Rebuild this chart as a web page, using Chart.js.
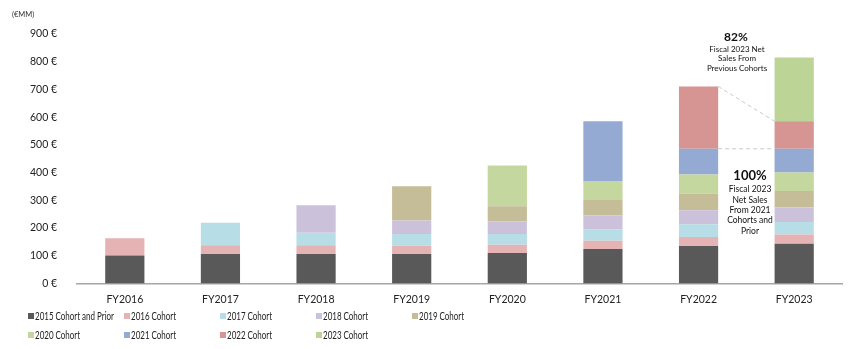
<!DOCTYPE html>
<html>
<head>
<meta charset="utf-8">
<script src="https://cdn.jsdelivr.net/npm/chart.js@4.4.0/dist/chart.umd.min.js"></script>
<style>
  html, body { margin: 0; padding: 0; background: #fff; }
  #wrap { position: relative; width: 850px; height: 349px; }
</style>
</head>
<body>
<div id="wrap"><canvas id="cohorts"></canvas></div>
<script>
const years = ['FY2016', 'FY2017', 'FY2018', 'FY2019', 'FY2020', 'FY2021', 'FY2022', 'FY2023']

const cohort2015 = [101, 106, 106, 106, 110, 124, 135, 143]
const cohort2016 = [62, 32, 32, 30, 30, 30, 33, 34]
const cohort2017 = [null, 81, 45, 43, 39, 42, 46, 45]
const cohort2018 = [null, null, 99, 48, 45, 49, 50, 52]
const cohort2019 = [null, null, null, 124, 55, 56, 60, 60]
const cohort2020 = [null, null, null, null, 147, 69, 69, 66]
const cohort2021 = [null, null, null, null, null, 215, 93, 86]
const cohort2022 = [null, null, null, null, null, null, 225, 99]
const cohort2023 = [null, null, null, null, null, null, null, 230]

const cohortLabels = ['2015 Cohort and Prior', '2016 Cohort', '2017 Cohort', '2018 Cohort', '2019 Cohort',
  '2020 Cohort', '2021 Cohort', '2022 Cohort', '2023 Cohort']
const cohortColors = ['#595959', '#E6B3B5', '#B7DEE6', '#CCC1DB', '#C5BC98',
  '#C4D79E', '#94AAD2', '#D69492', '#BCD597']

const yTicks = [0, 100, 200, 300, 400, 500, 600, 700, 800, 900]

const FONT = 'Lato, "Liberation Sans", sans-serif'

const series = [cohort2015, cohort2016, cohort2017, cohort2018, cohort2019,
  cohort2020, cohort2021, cohort2022, cohort2023]

// legend laid out in a fixed 5 column grid, drawn on the canvas
const gridLegend = {
  id: 'gridLegend',
  afterDraw (chart) {
    const ctx = chart.ctx
    ctx.save()
    ctx.font = '11px ' + FONT
    ctx.textBaseline = 'middle'
    // the original face is narrow: squeeze so the longest label is ~79px
    const squeeze = Math.min(1, 79 / ctx.measureText(cohortLabels[0]).width)
    cohortLabels.forEach((label, i) => {
      const x = 31 + (i % 5) * 96
      const y = i < 5 ? 316 : 335
      ctx.fillStyle = cohortColors[i]
      ctx.fillRect(x - 3, y - 3, 6, 6)
      ctx.fillStyle = '#222'
      ctx.save()
      ctx.translate(x + 4, y)
      ctx.scale(squeeze, 1)
      ctx.fillText(label, 0, 0)
      ctx.restore()
    })
    ctx.restore()
  }
}

// callouts between FY2022 and FY2023
const callouts = {
  id: 'callouts',
  afterDraw (chart) {
    const ctx = chart.ctx
    const top22 = chart.getDatasetMeta(7).data[6]
    const top22b = chart.getDatasetMeta(6).data[6]
    const red23 = chart.getDatasetMeta(7).data[7]
    const blue23 = chart.getDatasetMeta(6).data[7]
    ctx.save()
    ctx.strokeStyle = '#C9C9C9'
    ctx.lineWidth = 1
    ctx.setLineDash([4, 3])
    ctx.beginPath()
    ctx.moveTo(top22.x + top22.width / 2, top22.y)
    ctx.lineTo(red23.x - red23.width / 2, red23.y)
    ctx.moveTo(top22b.x + top22b.width / 2, top22b.y)
    ctx.lineTo(blue23.x - blue23.width / 2, blue23.y)
    ctx.stroke()
    ctx.setLineDash([])

    ctx.fillStyle = '#111'
    ctx.textAlign = 'center'
    ctx.textBaseline = 'middle'
    ctx.font = 'bold 12px ' + FONT
    ctx.fillText('82%', 736, 37)
    ctx.font = '8px ' + FONT
    ctx.fillText('Fiscal 2023 Net', 737, 49)
    ctx.fillText('Sales From', 737, 58.5)
    ctx.fillText('Previous Cohorts', 737, 68)

    ctx.font = 'bold 13px ' + FONT
    ctx.fillText('100%', 750, 176)
    ctx.font = '8.5px ' + FONT
    const lines = ['Fiscal 2023', 'Net Sales', 'From 2021', 'Cohorts and', 'Prior']
    lines.forEach((t, i) => ctx.fillText(t, 750, 189.5 + i * 10.4))

    ctx.font = '7.5px ' + FONT
    ctx.textAlign = 'left'
    ctx.fillStyle = '#333'
    ctx.fillText('(€MM)', 12, 15)
    ctx.restore()
  }
}

new Chart(document.getElementById('cohorts'), {
  type: 'bar',
  data: {
    labels: years,
    datasets: series.map((values, i) => ({
      label: cohortLabels[i],
      data: values,
      backgroundColor: cohortColors[i],
      borderWidth: 0,
      categoryPercentage: 1,
      barPercentage: 0.41
    }))
  },
  options: {
    responsive: true,
    maintainAspectRatio: false,
    animation: false,
    layout: { padding: { left: 0, right: 8, top: 34, bottom: 0 } },
    plugins: {
      legend: { display: false },
      tooltip: { enabled: false }
    },
    scales: {
      x: {
        stacked: true,
        grid: { display: false },
        border: { color: '#A6A6A6', width: 1.5 },
        ticks: { color: '#222', font: { family: FONT, size: 10.5 }, padding: 2 },
        afterFit (scale) { scale.height = 65.5 }
      },
      y: {
        stacked: true,
        min: 0,
        max: 900,
        grid: { display: false },
        border: { display: false },
        afterBuildTicks (scale) { scale.ticks = yTicks.map(v => ({ value: v })) },
        ticks: {
          color: '#222',
          font: { family: FONT, size: 10.5 },
          padding: 12,
          callback: v => v + ' €'
        },
        afterFit (scale) { scale.width = 77 }
      }
    }
  },
  plugins: [gridLegend, callouts]
})
</script>
</body>
</html>
